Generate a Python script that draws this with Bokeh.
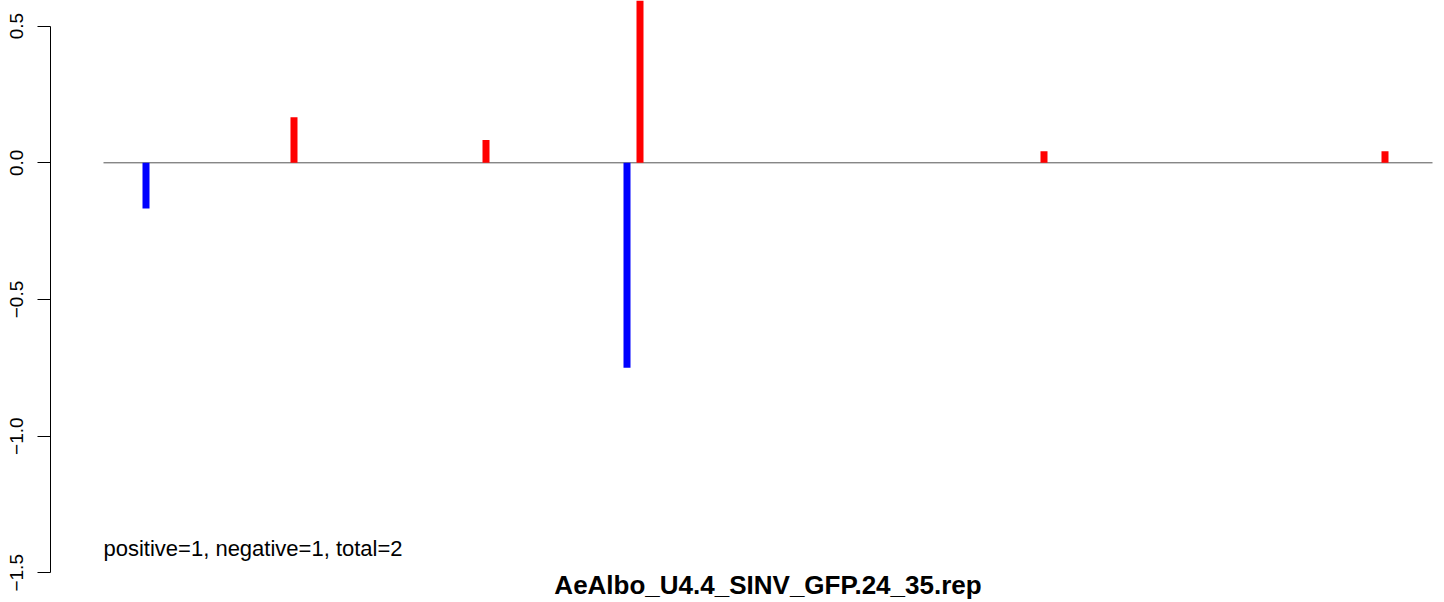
from bokeh.plotting import figure
from bokeh.models import Range1d, FixedTicker, Label
from bokeh.embed import file_html
from bokeh.resources import INLINE

# ---- data ----
seq_start = 0
seq_end = 1329
positions = [42.5, 190.5, 382.5, 523.5, 536.5, 940.5, 1281.5]
values = [-0.167, 0.167, 0.083, -0.75, 1.0, 0.042, 0.042]
y_ticks = [-1.5, -1.0, -0.5, 0.0, 0.5]
y_tick_labels = ["\u22121.5", "\u22121.0", "\u22120.5", "0.0", "0.5"]
summary_text = "positive=1, negative=1, total=2"
title_text = "AeAlbo_U4.4_SINV_GFP.24_35.rep"

colors = ["#FF0000" if v > 0 else "#0000FF" for v in values]

FONT = "Liberation Sans"

p = figure(width=1444, height=602, output_backend="svg", toolbar_location=None,
           tools="", x_range=Range1d(-53, 1341), y_range=Range1d(-1.6087, 0.5938),
           x_axis_location=None, min_border_left=50, min_border_right=0,
           min_border_top=0, min_border_bottom=0)
p.grid.visible = False
p.outline_line_color = None
p.background_fill_color = "white"
p.border_fill_color = "white"

ax = p.yaxis[0]
ax.ticker = FixedTicker(ticks=y_ticks)
ax.major_label_overrides = {t: s for t, s in zip(y_ticks, y_tick_labels)}
ax.bounds = (min(y_ticks), max(y_ticks))
ax.major_label_orientation = "vertical"
ax.major_label_text_font = FONT
ax.major_label_text_font_size = "19px"
ax.major_label_text_color = "black"
ax.major_label_standoff = 14
ax.major_tick_out = 13
ax.major_tick_in = 0
ax.minor_tick_line_color = None
ax.axis_line_color = "black"
ax.axis_line_width = 1
ax.major_tick_line_color = "black"

# baseline
p.segment(x0=[seq_start], y0=[0], x1=[seq_end], y1=[0], line_color="#555555", line_width=1)

# bars
p.vbar(x=positions, top=values, bottom=0, width=7, fill_color=colors, line_color=None)

p.add_layout(Label(x=seq_start, y=-1.411, text=summary_text, text_font=FONT,
                   text_font_size="22px", text_color="black",
                   text_align="left", text_baseline="alphabetic"))
p.add_layout(Label(x=(seq_start + seq_end) / 2, y=-1.5465, text=title_text, text_font=FONT,
                   text_font_size="26px", text_font_style="bold", text_color="black",
                   text_align="center", text_baseline="alphabetic"))

open("out.html", "w").write(file_html(p, INLINE))
